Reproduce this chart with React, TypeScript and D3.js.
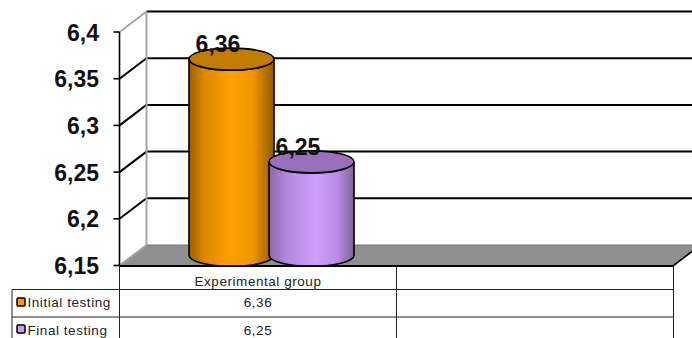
import React from "react";
import * as d3 from "d3";

const categories = ["Experimental group", ""];
const seriesNames = ["Initial testing", "Final testing"];
const initialValues = [6.36];
const finalValues = [6.25];
const valueLabels = [["6,36"], ["6,25"]];
const yTicks = [6.15, 6.2, 6.25, 6.3, 6.35, 6.4];
const yTickLabels = ["6,15", "6,2", "6,25", "6,3", "6,35", "6,4"];

const FONT = "'Liberation Sans', Arial, sans-serif";
const W = 692;
const H = 338;
const depthX = 27;
const depthY = -20.5;
const rx = 42.5;
const ry = 11;

const y = d3.scaleLinear().domain([6.15, 6.4]).range([265.5, 32]);
const xCat = d3.scaleBand<string>().domain(categories.map((c, i) => `${i}`)).range([119.5, 673.5]);
const xSeries = d3.scaleBand<string>().domain(seriesNames).range([-120, 120]).paddingInner(0).paddingOuter(0.5);

const seriesStyle = [
  { grad: "url(#orangeBody)", top: "#c27c00", swatch: "#ff9900", values: initialValues },
  { grad: "url(#purpleBody)", top: "#9a70bd", swatch: "#cc99ff", values: finalValues },
];

function Cylinder({ cx, value, body, top }: { cx: number; value: number; body: string; top: string }) {
  const base = y(6.15) + depthY / 2;
  const t = y(value) + depthY / 2;
  const d = `M${cx - rx},${t} L${cx - rx},${base} A${rx},${ry} 0 0 0 ${cx + rx},${base} L${cx + rx},${t} A${rx},${ry} 0 0 1 ${cx - rx},${t} Z`;
  return (
    <g stroke="#000" strokeWidth={1.6}>
      <path d={d} fill={body} />
      <ellipse cx={cx} cy={t} rx={rx} ry={ry} fill={top} />
    </g>
  );
}

export default function App() {
  const left = xCat("0")!;
  const right = left + xCat.bandwidth() * 2;
  const floorY = y(6.15);
  const catCx = left + xCat.bandwidth() / 2;
  const tableRows = [289.5, 317];
  const tableCols = [119.5, xCat("1")!, right];
  const tableText = { fontFamily: FONT, fontSize: 13.5, letterSpacing: 0.55, fill: "#222" };
  const boldText = { fontFamily: FONT, fontSize: 23, fontWeight: "bold", fill: "#111" };

  return (
    <svg width={W} height={H} style={{ position: "absolute", left: 0, top: 0, background: "#fff" }}>
      <defs>
        <linearGradient id="orangeBody" x1="0" x2="1" y1="0" y2="0">
          <stop offset="0" stopColor="#9c5f00" />
          <stop offset="0.18" stopColor="#dd8800" />
          <stop offset="0.5" stopColor="#ffa000" />
          <stop offset="0.75" stopColor="#f09400" />
          <stop offset="1" stopColor="#8f5a00" />
        </linearGradient>
        <linearGradient id="purpleBody" x1="0" x2="1" y1="0" y2="0">
          <stop offset="0" stopColor="#8a68ab" />
          <stop offset="0.2" stopColor="#b088db" />
          <stop offset="0.55" stopColor="#cf9dff" />
          <stop offset="0.8" stopColor="#b98ee6" />
          <stop offset="1" stopColor="#7f6399" />
        </linearGradient>
      </defs>

      {/* floor */}
      <polygon
        points={`${left},${floorY} ${left + depthX},${floorY + depthY} ${W},${floorY + depthY} ${W},${floorY + depthY + 7} ${right},${floorY}`}
        fill="#8f8f8f"
      />
      <line x1={left + depthX} x2={W} y1={floorY + depthY} y2={floorY + depthY} stroke="#777" strokeWidth={1} />

      {/* gridlines on the back and side walls */}
      {yTicks.slice(1).map((t) => (
        <g key={t} stroke="#000" strokeWidth={2} fill="none">
          <line x1={left + depthX} x2={W} y1={y(t) + depthY} y2={y(t) + depthY} />
          {t < 6.4 && <line x1={left} x2={left + depthX} y1={y(t)} y2={y(t) + depthY} />}
        </g>
      ))}

      {/* wall edges */}
      <g stroke="#a6a6a6" strokeWidth={2} fill="none">
        <line x1={left + depthX} x2={left + depthX} y1={y(6.4) + depthY} y2={floorY + depthY} />
        <line x1={left} x2={left + depthX} y1={y(6.4)} y2={y(6.4) + depthY} />
        <line x1={left} x2={left + depthX} y1={floorY} y2={floorY + depthY} />
      </g>

      {/* front axis */}
      <line x1={left} x2={left} y1={y(6.4)} y2={floorY} stroke="#000" strokeWidth={1.6} />
      {yTicks.map((t, i) => (
        <g key={t}>
          <line x1={left - 6} x2={left} y1={y(t)} y2={y(t)} stroke="#000" strokeWidth={1.6} />
          <text x={99} y={y(t) + 8.5} textAnchor="end" {...boldText}>
            {yTickLabels[i]}
          </text>
        </g>
      ))}

      {/* cylinders */}
      {seriesStyle.map((s, i) => {
        const cx = catCx + depthX / 2 + xSeries(seriesNames[i])! + xSeries.bandwidth() / 2;
        return <Cylinder key={i} cx={cx} value={s.values[0]} body={s.grad} top={s.top} />;
      })}
      {seriesStyle.map((s, i) => {
        const cx = catCx + depthX / 2 + xSeries(seriesNames[i])! + xSeries.bandwidth() / 2;
        return (
          <text key={i} x={cx - 13.5} y={y(s.values[0]) + depthY / 2 - 7} textAnchor="middle" {...boldText}>
            {valueLabels[i][0]}
          </text>
        );
      })}

      <line x1={left} x2={right} y1={floorY + 0.5} y2={floorY + 0.5} stroke="#000" strokeWidth={2} />
      <line x1={right} x2={W} y1={floorY} y2={floorY - (W - right) * (-depthY / depthX)} stroke="#000" strokeWidth={1.6} />

      {/* data table */}
      <g stroke="#222" strokeWidth={1} fill="none">
        {tableCols.map((c) => (
          <line key={c} x1={c} x2={c} y1={floorY} y2={H} />
        ))}
        <line x1={12} x2={12} y1={tableRows[0]} y2={H} />
        {tableRows.map((r) => (
          <line key={r} x1={12} x2={right} y1={r} y2={r} />
        ))}
      </g>
      <text x={catCx} y={286} textAnchor="middle" {...tableText}>
        {categories[0]}
      </text>
      {seriesNames.map((n, i) => (
        <g key={n}>
          <rect x={17} y={tableRows[i] + 8.5 + (i ? -0.5 : 0)} width={8} height={8} fill={seriesStyle[i].swatch} stroke="#000" strokeWidth={1.5} rx={1} />
          <text x={27.5} y={tableRows[i] + 17.5} {...tableText}>
            {n}
          </text>
          <text x={catCx} y={tableRows[i] + 17.5} textAnchor="middle" {...tableText}>
            {valueLabels[i][0]}
          </text>
        </g>
      ))}
    </svg>
  );
}
